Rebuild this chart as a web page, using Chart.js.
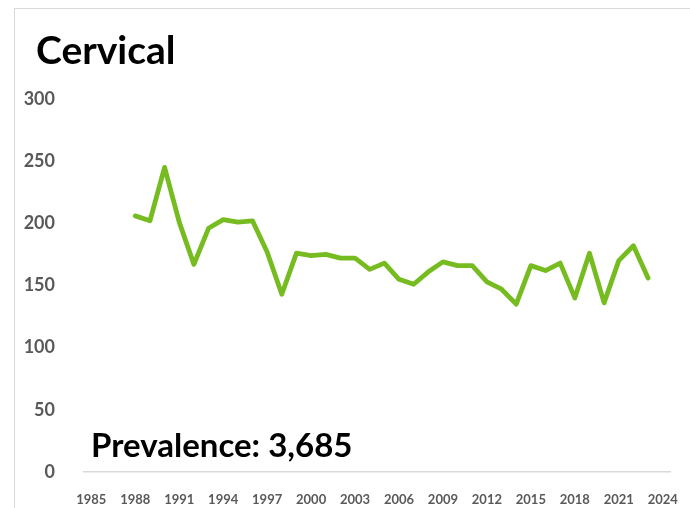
<!DOCTYPE html>
<html>
<head>
<meta charset="utf-8">
<script src="https://cdn.jsdelivr.net/npm/chart.js@4.4.1/dist/chart.umd.min.js"></script>
<style>
   body { margin: 0; background: #ffffff; }
   #frame {
      position: absolute; left: 14px; top: 8px; width: 700px; height: 520px;
      border: 1px solid #d9d9d9; box-sizing: border-box;
   }
   #wrap { position: absolute; left: 0; top: 0; width: 690px; height: 508px; }
</style>
</head>
<body>
<div id="frame"></div>
<div id="wrap"><canvas id="cervicalChart" width="690" height="508"></canvas></div>
<script>
const years = [1988, 1989, 1990, 1991, 1992, 1993, 1994, 1995, 1996, 1997,
   1998, 1999, 2000, 2001, 2002, 2003, 2004, 2005, 2006, 2007,
   2008, 2009, 2010, 2011, 2012, 2013, 2014, 2015, 2016, 2017,
   2018, 2019, 2020, 2021, 2022, 2023];
const cases = [206, 202, 245, 201, 167, 196, 203, 201, 202, 177,
   143, 176, 174, 175, 172, 172, 163, 168, 155, 151,
   161, 169, 166, 166, 153, 147, 135, 166, 162, 168,
   140, 176, 136, 170, 182, 156];
const yearTicks = [1985, 1988, 1991, 1994, 1997, 2000, 2003, 2006, 2009, 2012, 2015, 2018, 2021, 2024];
const caseTicks = [0, 50, 100, 150, 200, 250, 300];
const titleText = "Cervical";
const prevalenceText = "Prevalence: 3,685";

const FONT = "Lato, 'Liberation Sans', sans-serif";

// title and prevalence note are drawn straight onto the canvas
const textPlugin = {
   id: "chartText",
   afterDraw(chart) {
      const ctx = chart.ctx;
      ctx.save();
      ctx.fillStyle = "#000000";
      ctx.textBaseline = "alphabetic";
      ctx.textAlign = "left";
      ctx.font = "bold 39px " + FONT;
      ctx.fillText(titleText, 36, 64);
      ctx.font = "bold 33px " + FONT;
      ctx.fillText(prevalenceText, 91, 457);
      ctx.restore();
   }
};

const ctx = document.getElementById("cervicalChart").getContext("2d");
new Chart(ctx, {
   type: "line",
   data: {
      datasets: [{
         data: years.map((y, i) => ({ x: y, y: cases[i] })),
         borderColor: "#76bc21",
         borderWidth: 4.8,
         pointRadius: 0,
         tension: 0,
         fill: false,
         borderJoinStyle: "round",
         borderCapStyle: "round"
      }]
   },
   options: {
      responsive: false,
      animation: false,
      layout: { padding: { top: 99, right: 16, bottom: 0, left: 0 } },
      plugins: {
         legend: { display: false },
         tooltip: { enabled: false },
         title: { display: false }
      },
      scales: {
         x: {
            type: "linear",
            min: 1984.5,
            max: 2024.5,
            afterBuildTicks(scale) {
               scale.ticks = yearTicks.map(v => ({ value: v }));
            },
            afterFit(scale) { scale.height = 36; },
            grid: { display: false },
            border: { display: true, color: "#d9d9d9", width: 1.5 },
            ticks: {
               padding: 12,
               color: "#595959",
               font: { family: FONT, size: 13, weight: "bold" },
               maxRotation: 0,
               autoSkip: false,
               callback: v => String(v)
            }
         },
         y: {
            min: 0,
            max: 300,
            afterBuildTicks(scale) {
               scale.ticks = caseTicks.map(v => ({ value: v }));
            },
            afterFit(scale) { scale.width = 84; },
            grid: { display: false },
            border: { display: false },
            ticks: {
               padding: 21,
               color: "#595959",
               font: { family: FONT, size: 18, weight: "bold" }
            }
         }
      }
   },
   plugins: [textPlugin]
});
</script>
</body>
</html>
